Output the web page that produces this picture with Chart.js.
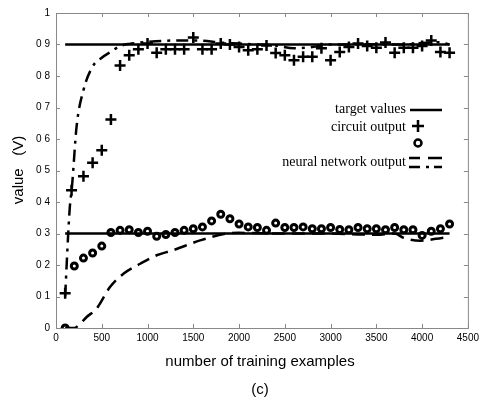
<!DOCTYPE html>
<html>
<head>
<meta charset="utf-8">
<script src="https://cdn.jsdelivr.net/npm/chart.js@4"></script>
<style>
  body { margin:0; background:#fff; }
  canvas { display:block; }
</style>
</head>
<body>
<canvas id="grafico" width="483" height="400"></canvas>
<script>
// datos
var xTicks = [0,500,1000,1500,2000,2500,3000,3500,4000,4500];
var yTicks = [0,0.1,0.2,0.3,0.4,0.5,0.6,0.7,0.8,0.9,1];

var targetX = [100, 4300];
var targetAlto = [0.9, 0.9];
var targetBajo = [0.3, 0.3];

// circuito, objetivo 0.9 (cruces)
var cruzX = [100,170,300,400,500,600,700,800,900,1000,1100,1200,1300,1400,1500,1600,1700,1800,1900,2000,2100,2200,2300,2400,2500,2600,2700,2800,2900,3000,3100,3200,3300,3400,3500,3600,3700,3800,3900,4000,4100,4200,4300];
var cruzY = [0.11,0.437,0.482,0.525,0.564,0.662,0.833,0.866,0.885,0.903,0.874,0.885,0.885,0.885,0.922,0.885,0.885,0.903,0.9,0.892,0.882,0.885,0.897,0.873,0.866,0.85,0.861,0.861,0.888,0.85,0.876,0.892,0.903,0.895,0.89,0.906,0.874,0.89,0.89,0.895,0.913,0.876,0.874];

// circuito, objetivo 0.3 (circulos)
var circX = [100,200,300,400,500,600,700,800,900,1000,1100,1200,1300,1400,1500,1600,1700,1800,1900,2000,2100,2200,2300,2400,2500,2600,2700,2800,2900,3000,3100,3200,3300,3400,3500,3600,3700,3800,3900,4000,4100,4200,4300];
var circY = [0,0.197,0.222,0.238,0.26,0.303,0.31,0.312,0.303,0.307,0.291,0.297,0.303,0.31,0.315,0.321,0.34,0.361,0.347,0.33,0.321,0.319,0.31,0.333,0.319,0.319,0.321,0.315,0.315,0.319,0.313,0.312,0.319,0.315,0.315,0.312,0.319,0.312,0.312,0.294,0.307,0.315,0.33];

// red neuronal, objetivo 0.9 (punto y raya)
var redAltoX = [100,130,150,175,225,300,400,500,600,700,800,1000,1200,1400,1600,1800,2000,2200,2400,2600,2800,3000,3200,3400,3600,3800,4000,4200,4300];
var redAltoY = [0.1,0.28,0.38,0.45,0.64,0.755,0.83,0.858,0.877,0.895,0.902,0.908,0.912,0.913,0.912,0.906,0.903,0.9,0.897,0.888,0.892,0.9,0.9,0.901,0.9,0.9,0.905,0.907,0.9];

// red neuronal, objetivo 0.3 (rayas)
var redBajoX = [100,200,250,335,445,590,740,920,1100,1280,1575,1870,2000,2500,3000,3300,3500,3700,3800,3980,4150,4300];
var redBajoY = [0,0,0.01,0.035,0.062,0.13,0.173,0.204,0.231,0.247,0.278,0.3,0.302,0.3,0.3,0.297,0.296,0.3,0.286,0.277,0.283,0.29];

function pares(xs, ys){
    var out = [];
    for (let i = 0; i < xs.length; i++) {
        out.push({x: xs[i], y: ys[i]});
    }
    return out;
}

var linea = function(xs, ys, dash){
    return {
        data: pares(xs, ys), showLine: true, borderColor: "#000", borderWidth: 2.5,
        borderDash: dash, pointRadius: 0, cubicInterpolationMode: "monotone", fill: false
    };
};

// leyenda, titulos y marcas hacia dentro
var extras = {
    id: "extras",
    afterDraw: function(chart){
        var ctx = chart.ctx;
        var a = chart.chartArea;
        var sx = chart.scales.x, sy = chart.scales.y;
        ctx.save();
        ctx.strokeStyle = "#888";
        ctx.lineWidth = 1;
        ctx.strokeRect(a.left + 0.5, a.top + 0.5, a.right - a.left, a.bottom - a.top);
        ctx.beginPath();
        xTicks.forEach(v => {
            var px = Math.round(sx.getPixelForValue(v)) + 0.5;
            ctx.moveTo(px, a.bottom); ctx.lineTo(px, a.bottom - 4);
            ctx.moveTo(px, a.top); ctx.lineTo(px, a.top + 4);
        });
        yTicks.forEach(v => {
            var py = Math.round(sy.getPixelForValue(v)) + 0.5;
            ctx.moveTo(a.left, py); ctx.lineTo(a.left + 4, py);
            ctx.moveTo(a.right, py); ctx.lineTo(a.right - 4, py);
        });
        ctx.stroke();

        ctx.fillStyle = "#000";
        ctx.font = "15px 'Liberation Sans', Arial, sans-serif";
        ctx.textAlign = "center";
        ctx.textBaseline = "middle";
        ctx.fillText("number of training examples", 260, 362);
        ctx.fillText("(c)", 260, 390);
        ctx.save();
        ctx.translate(19, 170);
        ctx.rotate(-Math.PI / 2);
        ctx.fillText("value   (V)", 0, 0);
        ctx.restore();

        // leyenda
        ctx.font = "14px 'Liberation Serif', 'Times New Roman', serif";
        ctx.textAlign = "right";
        ctx.fillText("target values", 406, 109);
        ctx.fillText("circuit output", 406, 127);
        ctx.fillText("neural network output", 406, 162);
        ctx.strokeStyle = "#000";
        ctx.lineWidth = 2.5;
        ctx.beginPath();
        ctx.moveTo(410, 110); ctx.lineTo(442, 110);
        ctx.moveTo(412, 126); ctx.lineTo(424, 126);
        ctx.moveTo(418, 120); ctx.lineTo(418, 132);
        ctx.stroke();
        ctx.beginPath();
        ctx.arc(418, 143, 3.5, 0, Math.PI * 2);
        ctx.stroke();
        ctx.beginPath();
        ctx.moveTo(409, 158); ctx.lineTo(420, 158);
        ctx.moveTo(428, 158); ctx.lineTo(442, 158);
        ctx.moveTo(409, 167); ctx.lineTo(420, 167);
        ctx.moveTo(426, 167); ctx.lineTo(429, 167);
        ctx.moveTo(434, 167); ctx.lineTo(442, 167);
        ctx.stroke();
        ctx.restore();
    }
};

var ctx = document.getElementById("grafico").getContext("2d");
var chart = new Chart(ctx, {
    type: "scatter",
    plugins: [extras],
    data: {
        datasets: [
            linea(targetX, targetAlto, []),
            linea(targetX, targetBajo, []),
            linea(redAltoX, redAltoY, [12, 6, 3, 6]),
            linea(redBajoX, redBajoY, [13, 7]),
            {
                data: pares(cruzX, cruzY), pointStyle: "cross", pointRadius: 5.5,
                borderColor: "#000", borderWidth: 2.5, showLine: false
            },
            {
                data: pares(circX, circY), pointStyle: "circle", pointRadius: 3,
                borderColor: "#000", backgroundColor: "#fff", borderWidth: 3, showLine: false
            }
        ]
    },
    options: {
        responsive: false,
        animation: false,
        devicePixelRatio: 1,
        layout: { padding: { left: 0, top: 13, right: 13, bottom: 0 } },
        plugins: { legend: { display: false }, tooltip: { enabled: false } },
        scales: {
            x: {
                type: "linear", min: 0, max: 4500,
                afterBuildTicks: function(s){ s.ticks = xTicks.map(v => ({value: v})); },
                afterFit: function(s){ s.height = 72; },
                grid: { display: false, drawTicks: false },
                border: { display: false },
                ticks: { color: "#000", padding: 4, maxRotation: 0,
                         font: { size: 10, family: "'Liberation Sans', Arial, sans-serif" },
                         callback: function(v){ return String(v); } }
            },
            y: {
                type: "linear", min: 0, max: 1,
                afterBuildTicks: function(s){ s.ticks = yTicks.map(v => ({value: v})); },
                afterFit: function(s){ s.width = 56; },
                grid: { display: false, drawTicks: false },
                border: { display: false },
                ticks: { color: "#000", padding: 6,
                         font: { size: 10, family: "'Liberation Sans', Arial, sans-serif" },
                         callback: function(v){
                             if (v === 0 || v === 1) return String(v);
                             return v.toFixed(1).replace(".", " ");
                         } }
            }
        }
    }
});
</script>
</body>
</html>
